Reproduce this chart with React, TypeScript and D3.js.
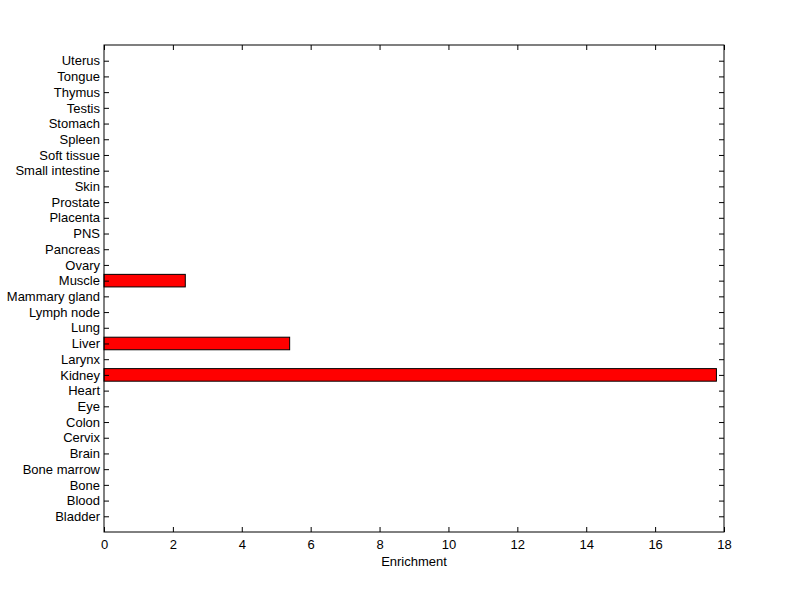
import * as d3 from 'd3';
import { useEffect, useRef } from 'react';

// tissues, bottom to top
const tissues = [
  'Bladder', 'Blood', 'Bone', 'Bone marrow', 'Brain', 'Cervix', 'Colon', 'Eye', 'Heart', 'Kidney',
  'Larynx', 'Liver', 'Lung', 'Lymph node', 'Mammary gland', 'Muscle', 'Ovary', 'Pancreas', 'PNS', 'Placenta',
  'Prostate', 'Skin', 'Small intestine', 'Soft tissue', 'Spleen', 'Stomach', 'Testis', 'Thymus', 'Tongue', 'Uterus'
];
const enrichment = [
  0, 0, 0, 0, 0, 0, 0, 0, 0, 17.78,
  0, 5.39, 0, 0, 0, 2.36, 0, 0, 0, 0,
  0, 0, 0, 0, 0, 0, 0, 0, 0, 0
];
const xTicks = [0, 2, 4, 6, 8, 10, 12, 14, 16, 18];

const W = 800;
const H = 599;
const margin = { top: 45, right: 76, bottom: 67, left: 104 };

const App = () => {
  const svgRef = useRef<SVGSVGElement>(null);

  useEffect(() => {
    const svg = d3.select(svgRef.current);
    svg.selectAll('*').remove();

    const width = W - margin.left - margin.right;
    const height = H - margin.top - margin.bottom;
    const g = svg.append('g').attr('transform', `translate(${margin.left},${margin.top})`);

    const x = d3.scaleLinear().domain([0, 18]).range([0, width]);
    const y = d3.scaleLinear().domain([0, tissues.length + 1]).range([height, 0]);
    const yVals = tissues.map((_, i) => i + 1);
    const font = 'Arial, "Liberation Sans", sans-serif';
    const fs = 13;

    // bars
    const barH = y(0) - y(0.8);
    g.selectAll('rect.bar')
      .data(enrichment.map((v, i) => ({ v, i })).filter(d => d.v > 0))
      .join('rect')
      .attr('class', 'bar')
      .attr('x', x(0))
      .attr('y', d => y(d.i + 1) - barH / 2)
      .attr('width', d => x(d.v) - x(0))
      .attr('height', barH)
      .attr('fill', '#ff0000')
      .attr('stroke', '#000')
      .attr('stroke-width', 1);

    // bottom axis
    g.append('g')
      .attr('transform', `translate(0,${height})`)
      .call(d3.axisBottom(x).tickValues(xTicks).tickSizeInner(-5).tickSizeOuter(0).tickPadding(8))
      .call(ax => ax.select('.domain').remove())
      .call(ax => ax.selectAll('text').attr('font-size', fs).attr('font-family', font).attr('fill', '#000'));

    // top ticks
    g.append('g')
      .call(d3.axisTop(x).tickValues(xTicks).tickSizeInner(-5).tickSizeOuter(0).tickFormat(() => ''))
      .call(ax => ax.select('.domain').remove());

    // left axis
    g.append('g')
      .call(d3.axisLeft(y).tickValues(yVals).tickFormat((_, i) => tissues[i]).tickSizeInner(-5).tickSizeOuter(0).tickPadding(4))
      .call(ax => ax.select('.domain').remove())
      .call(ax => ax.selectAll('text').attr('font-size', fs).attr('font-family', font).attr('fill', '#000'));

    // right ticks
    g.append('g')
      .attr('transform', `translate(${width},0)`)
      .call(d3.axisRight(y).tickValues(yVals).tickSizeInner(-5).tickSizeOuter(0).tickFormat(() => ''))
      .call(ax => ax.select('.domain').remove());

    // frame
    g.append('rect')
      .attr('x', 0)
      .attr('y', 0)
      .attr('width', width)
      .attr('height', height)
      .attr('fill', 'none')
      .attr('stroke', '#000')
      .attr('stroke-width', 1);

    g.append('text')
      .attr('x', width / 2)
      .attr('y', height + 34)
      .attr('text-anchor', 'middle')
      .attr('font-size', fs)
      .attr('font-family', font)
      .text('Enrichment');
  }, []);

  return <svg ref={svgRef} width={W} height={H} style={{ position: 'absolute', left: 0, top: 0, background: '#fff' }} />;
};

export default App;
